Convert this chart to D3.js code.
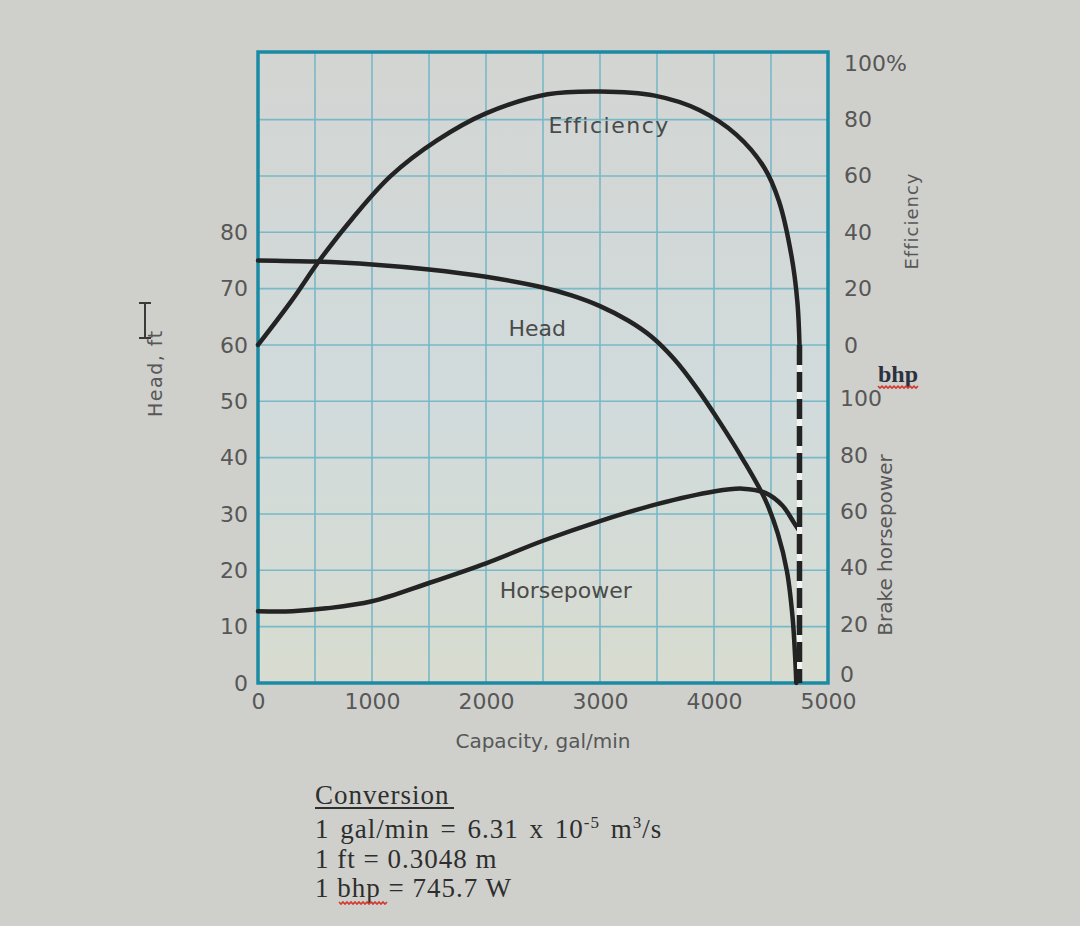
<!DOCTYPE html>
<html>
<head>
<meta charset="utf-8">
<script src="https://cdn.jsdelivr.net/npm/d3@7"></script>
<style>
  html, body { margin: 0; padding: 0; background: #cfd0cc; }
  svg { display: block; }
</style>
</head>
<body>
<svg id="chart" width="1080" height="926"></svg>
<script>
// ---------- data ----------
const capacityTicks = [0, 1000, 2000, 3000, 4000, 5000];
const gridCapacity = [500, 1000, 1500, 2000, 2500, 3000, 3500, 4000, 4500];
const headTicks = [0, 10, 20, 30, 40, 50, 60, 70, 80];
const gridHead = [10, 20, 30, 40, 50, 60, 70, 80, 90, 100];
const effTicks = [0, 20, 40, 60, 80, 100];
const bhpTicks = [0, 20, 40, 60, 80, 100];

// Efficiency (%) vs capacity (gal/min)
const effCapacity = [0, 300, 530, 830, 1165, 1570, 2000, 2540, 3000, 3480, 3870, 4200, 4440, 4570, 4680, 4732, 4750];
const effValues   = [0, 16, 29.5, 45, 60, 72.6, 82.2, 89, 90, 88.5, 83.4, 74.5, 63, 51, 31.5, 15, 0];

// Head (ft) vs capacity
const headCapacity = [0, 500, 1000, 1500, 2000, 2500, 2750, 3000, 3250, 3450, 3650, 3850, 4050, 4250, 4450, 4560, 4640, 4690, 4712, 4722];
const headValues   = [75, 74.8, 74.3, 73.4, 72.1, 70.2, 68.8, 66.9, 64.3, 61.5, 57.5, 52.3, 46.3, 39.8, 32.5, 26.5, 19.8, 11.5, 4.5, 0];

// Brake horsepower vs capacity
const hpCapacity = [0, 300, 600, 1000, 1500, 2000, 2500, 3000, 3500, 4000, 4250, 4450, 4600, 4700, 4748];
const hpValues   = [25.5, 25.5, 26.5, 29, 35.5, 42.5, 50.5, 57.5, 63.5, 68, 69, 67.5, 63, 57, 54];

const shutoffCapacity = 4750;

const conversionLines = ["Conversion", "1 gal/min = 6.31 x 10", "1 ft = 0.3048 m", "1 bhp = 745.7 W"];

// ---------- scales ----------
const svg = d3.select("#chart");
const L = 258, R = 828, T = 52, B = 683;
const x = d3.scaleLinear().domain([0, 5000]).range([L, R]);
const yHead = d3.scaleLinear().domain([0, 112]).range([B, T]);
const yEff = d3.scaleLinear().domain([0, 100]).range([yHead(60), yHead(110)]);
const yBhp = d3.scaleLinear().domain([0, 100]).range([yHead(0), yHead(50)]);

const frameColor = "#1b8aa4";
const gridColor = "#79b8c6";
const textColor = "#575757";
const curveColor = "#232323";

// background
svg.append("rect").attr("width", 1080).attr("height", 926).attr("fill", "#cfd0cc");
const defs = svg.append("defs");
const grad = defs.append("linearGradient").attr("id", "plotbg").attr("x1", 0).attr("y1", 0).attr("x2", 0).attr("y2", 1);
grad.append("stop").attr("offset", "0%").attr("stop-color", "#d3d5d2");
grad.append("stop").attr("offset", "55%").attr("stop-color", "#d1dbdc");
grad.append("stop").attr("offset", "100%").attr("stop-color", "#d8dcd0");
svg.append("rect").attr("x", L).attr("y", T).attr("width", R - L).attr("height", B - T).attr("fill", "url(#plotbg)");

// grid
const grid = svg.append("g").attr("stroke", gridColor).attr("stroke-width", 1.6);
grid.selectAll("line.v").data(gridCapacity).join("line").attr("class", "v")
  .attr("x1", d => x(d)).attr("x2", d => x(d)).attr("y1", T).attr("y2", B);
grid.selectAll("line.h").data(gridHead).join("line").attr("class", "h")
  .attr("x1", L).attr("x2", R).attr("y1", d => yHead(d)).attr("y2", d => yHead(d));

// frame
svg.append("rect").attr("x", L).attr("y", T).attr("width", R - L).attr("height", B - T)
  .attr("fill", "none").attr("stroke", frameColor).attr("stroke-width", 3.5);

// axes (labels only)
const fontTicks = "'DejaVu Sans', sans-serif";
function styleAxis(g) {
  g.select(".domain").remove();
  g.selectAll(".tick line").remove();
  g.selectAll("text").attr("fill", textColor).style("font-family", fontTicks).style("font-size", "22px");
}
svg.append("g").attr("transform", `translate(${L},0)`)
  .call(d3.axisLeft(yHead).tickValues(headTicks).tickSize(0).tickPadding(10).tickFormat(d3.format("d")))
  .call(styleAxis);
svg.append("g").attr("transform", `translate(0,${B})`)
  .call(d3.axisBottom(x).tickValues(capacityTicks).tickSize(0).tickPadding(10).tickFormat(d3.format("d")))
  .call(styleAxis);
svg.append("g").attr("transform", `translate(${R},0)`)
  .call(d3.axisRight(yEff).tickValues(effTicks).tickSize(0).tickPadding(16).tickFormat(d => d === 100 ? "100%" : d))
  .call(styleAxis);
svg.append("g").attr("class", "bhp-axis").attr("transform", `translate(${R},0)`)
  .call(d3.axisRight(yBhp).tickValues(bhpTicks).tickSize(0).tickPadding(12).tickFormat(d3.format("d")))
  .call(styleAxis)
  .call(g => g.selectAll("text").attr("dy", d => d === 0 ? "-0.05em" : "0.2em"));

// axis titles
svg.append("text").attr("transform", `translate(162,${yHead(55)}) rotate(-90)`)
  .attr("text-anchor", "middle").attr("fill", textColor)
  .style("font-family", fontTicks).style("font-size", "19px").style("letter-spacing", "1.5px")
  .text("Head, ft");
svg.append("text").attr("x", x(2500)).attr("y", 748).attr("text-anchor", "middle").attr("fill", textColor)
  .style("font-family", fontTicks).style("font-size", "20px").text("Capacity, gal/min");
svg.append("text").attr("transform", `translate(918,${yHead(82)}) rotate(-90)`)
  .attr("text-anchor", "middle").attr("fill", textColor)
  .style("font-family", fontTicks).style("font-size", "18px").style("letter-spacing", "1px")
  .text("Efficiency");
svg.append("text").attr("transform", `translate(892,${yHead(24.5)}) rotate(-90)`)
  .attr("text-anchor", "middle").attr("fill", textColor)
  .style("font-family", fontTicks).style("font-size", "20px")
  .text("Brake horsepower");

// bhp label with spell-check underline
svg.append("text").attr("x", 878).attr("y", yHead(55) + 9).attr("fill", "#2c3140")
  .style("font-family", "'Liberation Serif', serif").style("font-size", "24px").style("font-weight", "bold")
  .text("bhp");
function wavy(x0, x1, y) {
  let p = `M${x0},${y}`;
  for (let xx = x0; xx < x1; xx += 4) p += ` l2,2 l2,-2`;
  return p;
}
svg.append("path").attr("d", wavy(878, 918, yHead(55) + 13)).attr("fill", "none")
  .attr("stroke", "#d23a32").attr("stroke-width", 1.6);

// curves
const line = d3.line().x(d => x(d[0])).curve(d3.curveCatmullRom.alpha(0.5));
const curves = svg.append("g").attr("fill", "none").attr("stroke", curveColor)
  .attr("stroke-width", 4.5).attr("stroke-linecap", "round").attr("stroke-linejoin", "round");

// dashed shutoff line (white underlay + dark dashes)
svg.append("line").attr("x1", x(shutoffCapacity)).attr("x2", x(shutoffCapacity))
  .attr("y1", yEff(0)).attr("y2", yHead(0)).attr("stroke", "#f2f4f2").attr("stroke-width", 5);
svg.append("line").attr("x1", x(shutoffCapacity)).attr("x2", x(shutoffCapacity))
  .attr("y1", yEff(0)).attr("y2", yHead(0)).attr("stroke", curveColor).attr("stroke-width", 5.5)
  .attr("stroke-dasharray", "20,7");

curves.append("path").datum(effCapacity.map((c, i) => [c, effValues[i]]))
  .attr("d", line.y(d => yEff(d[1])));
curves.append("path").datum(headCapacity.map((c, i) => [c, headValues[i]]))
  .attr("d", line.y(d => yHead(d[1])));
curves.append("path").datum(hpCapacity.map((c, i) => [c, hpValues[i]]))
  .attr("d", line.y(d => yBhp(d[1])));

// curve labels
const lab = svg.append("g").attr("fill", "#4a4a4a").style("font-family", fontTicks).style("font-size", "22px")
  .attr("text-anchor", "middle");
lab.append("text").attr("x", x(3080)).attr("y", 133).style("letter-spacing", "1.5px").text("Efficiency");
lab.append("text").attr("x", x(2450)).attr("y", yHead(63) + 8).text("Head");
lab.append("text").attr("x", x(2700)).attr("y", yHead(16.5) + 8).text("Horsepower");

// I-beam cursor
const ib = svg.append("g").attr("stroke", "#3a3a3a").attr("stroke-width", 2).attr("fill", "none");
ib.append("line").attr("x1", 145).attr("x2", 145).attr("y1", 303).attr("y2", 338);
ib.append("line").attr("x1", 139).attr("x2", 151).attr("y1", 303).attr("y2", 303);
ib.append("line").attr("x1", 139).attr("x2", 151).attr("y1", 338).attr("y2", 338);

// conversion block
const conv = svg.append("g").attr("fill", "#2e2e2e")
  .style("font-family", "'Liberation Serif', 'Times New Roman', serif").style("font-size", "27px")
  .style("letter-spacing", "1px");
conv.append("text").attr("x", 315).attr("y", 804).text(conversionLines[0]);
svg.append("line").attr("x1", 315).attr("x2", 454).attr("y1", 808).attr("y2", 808)
  .attr("stroke", "#2e2e2e").attr("stroke-width", 1.8);
const l2 = conv.append("text").attr("x", 315).attr("y", 838).style("word-spacing", "3px");
l2.append("tspan").text(conversionLines[1]);
l2.append("tspan").attr("dy", -10).style("font-size", "17px").text("-5");
l2.append("tspan").attr("dy", 10).text(" m");
l2.append("tspan").attr("dy", -10).style("font-size", "17px").text("3");
l2.append("tspan").attr("dy", 10).text("/s");
conv.append("text").attr("x", 315).attr("y", 868).text(conversionLines[2]);
conv.append("text").attr("x", 315).attr("y", 897).text(conversionLines[3]);
svg.append("path").attr("d", wavy(339, 385, 902)).attr("fill", "none")
  .attr("stroke", "#d23a32").attr("stroke-width", 1.6);
</script>
</body>
</html>
